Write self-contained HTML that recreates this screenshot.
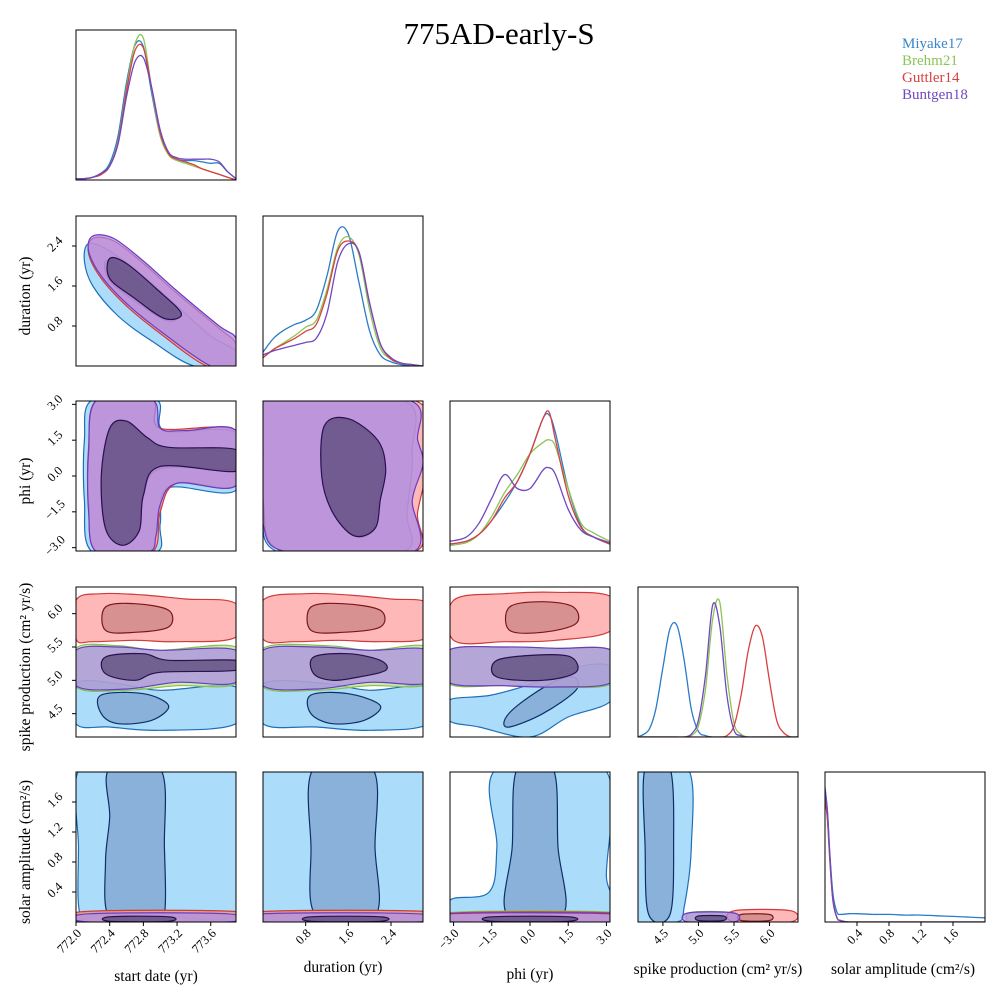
<!DOCTYPE html>
<html><head><meta charset="utf-8"><style>
html,body{margin:0;padding:0;background:#fff;}
svg text{font-family:"Liberation Serif","DejaVu Serif",serif;}
</style></head><body>
<svg id="fig" width="1000" height="1000" viewBox="0 0 1000 1000" xmlns="http://www.w3.org/2000/svg">
<text x="499" y="44" font-size="31" text-anchor="middle">775AD-early-S</text>
<g font-size="15">
<text x="902" y="48" fill="#3a84c9">Miyake17</text>
<text x="902" y="65" fill="#8cc455">Brehm21</text>
<text x="902" y="82" fill="#d94040">Guttler14</text>
<text x="902" y="99" fill="#7048c0">Buntgen18</text>
</g>
</svg>
<script>
// ---------- data ----------
const seriesNames=['Miyake17','Brehm21','Guttler14','Buntgen18'];
const varLabels=['start date (yr)','duration (yr)','phi (yr)','spike production (cm\u00b2 yr/s)','solar amplitude (cm\u00b2/s)'];
const varLo=[772.0,0.0,-3.14,4.15,0.0];
const varHi=[773.9,3.0,3.14,6.4,2.0];
const ticks0=[772.0,772.4,772.8,773.2,773.6];
const ticks1=[0.8,1.6,2.4];
const ticks2=[-3.0,-1.5,0.0,1.5,3.0];
const ticks3=[4.5,5.0,5.5,6.0];
const ticks4=[0.4,0.8,1.2,1.6];
// 1D marginals
const startGrid=[772.0,772.1,772.2,772.3,772.4,772.5,772.6,772.7,772.8,772.9,773.0,773.1,773.2,773.3,773.4,773.5,773.6,773.7,773.8,773.9];
const startMiyake=[0.01,0.01,0.02,0.05,0.12,0.32,0.7,0.97,0.96,0.62,0.32,0.19,0.15,0.14,0.14,0.13,0.12,0.12,0.06,0.01];
const startBrehm=[0.01,0.01,0.02,0.04,0.1,0.28,0.66,0.98,1.02,0.65,0.32,0.18,0.14,0.12,0.1,0.08,0.06,0.04,0.02,0.0];
const startGuttler=[0.01,0.01,0.02,0.04,0.1,0.27,0.64,0.93,0.95,0.66,0.34,0.19,0.15,0.13,0.11,0.08,0.06,0.04,0.02,0.0];
const startBuntgen=[0.01,0.01,0.02,0.05,0.1,0.26,0.6,0.85,0.88,0.66,0.36,0.2,0.16,0.15,0.15,0.15,0.15,0.13,0.06,0.01];
const durGrid=[0.0,0.2,0.4,0.6,0.8,1.0,1.2,1.4,1.6,1.8,2.0,2.2,2.4,2.6,2.8,3.0];
const durMiyake=[0.1,0.2,0.26,0.3,0.33,0.4,0.65,0.97,0.95,0.6,0.25,0.08,0.03,0.01,0.0,0.0];
const durBrehm=[0.06,0.12,0.17,0.22,0.28,0.33,0.55,0.85,0.93,0.8,0.4,0.13,0.05,0.02,0.01,0.0];
const durGuttler=[0.06,0.12,0.16,0.2,0.25,0.3,0.52,0.83,0.9,0.82,0.45,0.16,0.05,0.02,0.01,0.0];
const durBuntgen=[0.08,0.11,0.13,0.15,0.17,0.2,0.38,0.75,0.88,0.82,0.45,0.16,0.06,0.02,0.01,0.0];
const phiGrid=[-3.14,-2.5,-2.0,-1.5,-1.0,-0.5,0.0,0.5,0.75,1.0,1.5,2.0,2.5,3.14];
const phiMiyake=[0.05,0.07,0.12,0.22,0.35,0.5,0.7,0.95,0.98,0.85,0.45,0.18,0.1,0.05];
const phiBrehm=[0.04,0.06,0.12,0.25,0.42,0.55,0.7,0.78,0.8,0.75,0.45,0.2,0.13,0.07];
const phiGuttler=[0.05,0.07,0.12,0.22,0.38,0.5,0.7,0.95,1.0,0.8,0.4,0.17,0.1,0.05];
const phiBuntgen=[0.07,0.1,0.2,0.38,0.55,0.45,0.45,0.58,0.6,0.55,0.3,0.15,0.1,0.06];
const spikeGrid=[4.15,4.3,4.4,4.5,4.6,4.7,4.8,4.9,5.0,5.1,5.2,5.3,5.4,5.5,5.6,5.7,5.8,5.9,6.0,6.1,6.2,6.3,6.4];
const spikeMiyake=[0.0,0.05,0.2,0.5,0.78,0.8,0.55,0.2,0.04,0.01,0,0,0,0,0,0,0,0,0,0,0,0,0];
const spikeBrehm=[0,0,0,0,0,0,0,0.01,0.08,0.35,0.85,0.97,0.45,0.1,0.02,0,0,0,0,0,0,0,0];
const spikeGuttler=[0,0,0,0,0,0,0,0,0,0,0,0,0.01,0.08,0.3,0.62,0.8,0.72,0.4,0.12,0.03,0.0,0];
const spikeBuntgen=[0,0,0,0,0,0,0,0.02,0.12,0.45,0.95,0.8,0.3,0.05,0.01,0,0,0,0,0,0,0,0];
const solarGrid=[0.0,0.03,0.06,0.1,0.15,0.2,0.3,0.4,0.6,0.8,1.0,1.2,1.4,1.6,1.8,2.0];
const solarMiyake=[0.97,0.8,0.5,0.2,0.07,0.055,0.06,0.06,0.055,0.055,0.05,0.05,0.045,0.04,0.035,0.03];
const solarBrehm=[0.9,0.75,0.45,0.15,0.03,0.01,0,0,0,0,0,0,0,0,0,0];
const solarGuttler=[0.88,0.74,0.45,0.15,0.03,0.01,0,0,0,0,0,0,0,0,0,0];
const solarBuntgen=[0.95,0.8,0.48,0.16,0.03,0.01,0,0,0,0,0,0,0,0,0,0];
// 2D credible-region contours (data units): [series, level(0=outer,1=inner), points]
const c10=[
 [0,0,[[772.15,2.45],[772.4,2.3],[772.8,1.8],[773.2,1.2],[773.6,0.6],[773.9,0.3],[773.9,0.0],[773.4,0.0],[772.9,0.5],[772.5,1.0],[772.2,1.6],[772.1,2.1]]],
 [0,1,[[772.35,2.1],[772.55,1.95],[772.9,1.5],[773.2,1.0],[773.05,0.92],[772.7,1.3],[772.4,1.7]]],
 [2,0,[[772.2,2.55],[772.45,2.5],[772.8,2.05],[773.2,1.45],[773.7,0.75],[773.9,0.45],[773.9,0.0],[773.55,0.0],[773.0,0.65],[772.6,1.2],[772.3,1.75],[772.15,2.25]]],
 [3,0,[[772.2,2.6],[772.45,2.55],[772.8,2.1],[773.2,1.5],[773.7,0.8],[773.9,0.55],[773.9,0.0],[773.6,0.0],[773.0,0.7],[772.6,1.25],[772.3,1.8],[772.15,2.3]]],
 [3,1,[[772.4,2.15],[772.6,2.05],[772.95,1.55],[773.25,1.05],[773.05,0.95],[772.7,1.35],[772.4,1.75]]]
];
const c20=[
 [0,0,[[772.2,3.2],[772.95,3.2],[773.05,1.9],[773.9,1.8],[773.9,-0.6],[773.1,-0.5],[773.0,-2.0],[772.95,-3.2],[772.2,-3.2],[772.1,-1.0],[772.1,1.5]]],
 [0,1,[[772.4,1.9],[772.6,2.2],[772.85,1.5],[773.1,1.1],[773.9,1.0],[773.9,0.3],[773.0,0.3],[772.8,-0.9],[772.75,-2.3],[772.55,-2.8],[772.35,-2.2],[772.3,0.0]]],
 [2,0,[[772.25,3.2],[772.9,3.2],[773.0,2.0],[773.9,1.9],[773.9,-0.4],[773.2,-0.3],[773.0,-1.5],[772.9,-3.2],[772.25,-3.2],[772.15,-1.2],[772.15,1.2]]],
 [3,0,[[772.25,3.2],[772.9,3.2],[773.0,2.0],[773.3,1.9],[773.9,1.9],[773.9,-0.4],[773.2,-0.3],[773.0,-1.2],[772.95,-2.5],[772.85,-3.2],[772.25,-3.2],[772.15,-1.5],[772.15,1.0]]],
 [3,1,[[772.4,2.0],[772.6,2.3],[772.85,1.6],[773.1,1.2],[773.9,1.1],[773.9,0.2],[773.0,0.4],[772.8,-0.8],[772.75,-2.3],[772.55,-2.9],[772.35,-2.2],[772.3,0.0]]]
];
const c21=[
 [0,0,[[0.0,3.2],[2.6,3.2],[2.8,1.0],[2.7,-1.5],[2.6,-3.2],[0.3,-3.2],[0.0,-1.0]]],
 [0,1,[[1.15,2.0],[1.6,2.3],[2.1,1.5],[2.25,0.3],[2.15,-1.0],[2.05,-2.3],[1.7,-2.5],[1.3,-1.5],[1.1,0.0]]],
 [2,0,[[0.0,3.2],[2.8,3.2],[3.1,1.0],[2.9,-1.5],[2.8,-3.2],[0.4,-3.2],[0.0,-1.0]]],
 [3,0,[[0.0,3.2],[2.7,3.2],[2.9,1.5],[3.0,0.5],[2.8,-1.0],[2.8,-3.2],[0.5,-3.2],[0.0,-2.0],[0.0,1.0]]],
 [3,1,[[1.15,2.1],[1.6,2.4],[2.15,1.5],[2.3,0.3],[2.2,-1.0],[2.1,-2.2],[1.7,-2.5],[1.3,-1.5],[1.1,0.0]]]
];
const c30=[
 [0,0,[[772.0,4.95],[772.5,4.95],[773.0,4.85],[773.9,4.9],[773.9,4.35],[773.0,4.25],[772.4,4.3],[772.0,4.35]]],
 [0,1,[[772.3,4.78],[772.8,4.8],[773.1,4.62],[772.9,4.4],[772.5,4.35],[772.3,4.5]]],
 [1,0,[[772.0,5.48],[772.5,5.52],[773.0,5.45],[773.9,5.5],[773.9,4.95],[773.2,4.92],[772.6,4.85],[772.0,4.9]]],
 [2,0,[[772.0,6.2],[772.3,6.3],[772.8,6.28],[773.3,6.22],[773.9,6.15],[773.9,5.65],[773.2,5.58],[772.7,5.6],[772.2,5.58],[772.0,5.62]]],
 [2,1,[[772.35,6.1],[772.7,6.15],[773.1,6.05],[773.1,5.8],[772.7,5.72],[772.35,5.75]]],
 [3,0,[[772.0,5.45],[772.5,5.5],[773.0,5.45],[773.9,5.45],[773.9,4.97],[773.2,4.97],[772.6,4.87],[772.0,4.92]]],
 [3,1,[[772.35,5.35],[772.8,5.4],[773.1,5.3],[773.9,5.3],[773.9,5.15],[773.0,5.12],[772.7,5.0],[772.35,5.1]]]
];
const c31=[
 [0,0,[[0.0,4.95],[1.2,4.95],[2.0,4.85],[3.1,4.9],[3.1,4.35],[2.0,4.25],[1.0,4.3],[0.0,4.35]]],
 [0,1,[[0.9,4.78],[1.6,4.8],[2.2,4.62],[1.9,4.4],[1.3,4.35],[0.9,4.5]]],
 [1,0,[[0.0,5.48],[1.2,5.52],[2.0,5.45],[3.1,5.5],[3.1,4.95],[2.0,4.92],[1.0,4.85],[0.0,4.9]]],
 [2,0,[[0.0,6.2],[0.8,6.3],[1.6,6.28],[2.4,6.22],[3.1,6.15],[3.1,5.65],[2.2,5.58],[1.4,5.6],[0.6,5.58],[0.0,5.62]]],
 [2,1,[[0.9,6.1],[1.5,6.15],[2.2,6.05],[2.2,5.8],[1.5,5.72],[0.9,5.75]]],
 [3,0,[[0.0,5.45],[1.0,5.5],[2.0,5.45],[3.1,5.45],[3.1,4.97],[2.0,4.97],[1.0,4.87],[0.0,4.92]]],
 [3,1,[[0.95,5.35],[1.6,5.4],[2.2,5.3],[2.3,5.15],[1.8,5.05],[1.3,5.0],[0.95,5.1]]]
];
const c32=[
 [0,0,[[-3.2,4.7],[-1.5,4.78],[0.5,5.0],[1.8,5.2],[3.2,5.2],[3.2,4.7],[1.5,4.45],[0.0,4.15],[-2.0,4.3],[-3.2,4.4]]],
 [0,1,[[-0.8,4.3],[0.5,4.5],[1.8,4.85],[1.7,5.05],[0.8,4.95],[-0.5,4.62],[-1.0,4.4]]],
 [1,0,[[-3.2,5.45],[-1.0,5.5],[1.0,5.48],[3.2,5.45],[3.2,4.95],[1.0,4.9],[-1.0,4.92],[-3.2,4.95]]],
 [2,0,[[-3.0,6.2],[-1.0,6.3],[1.0,6.32],[3.2,6.25],[3.2,5.75],[1.0,5.6],[-1.0,5.58],[-3.0,5.6]]],
 [2,1,[[-0.8,6.1],[0.5,6.18],[1.7,6.1],[1.8,5.85],[0.5,5.72],[-0.8,5.75]]],
 [3,0,[[-3.2,5.45],[-1.0,5.5],[1.0,5.48],[3.2,5.45],[3.2,4.97],[1.0,4.9],[-1.0,4.92],[-3.2,4.97]]],
 [3,1,[[-1.3,5.3],[0.3,5.38],[1.6,5.35],[1.8,5.12],[0.5,5.0],[-1.3,5.05]]]
];
const c40=[
 [0,0,[[772.05,2.05],[772.8,2.05],[773.9,2.05],[773.92,1.0],[773.9,0.1],[773.0,0.08],[772.3,0.1],[772.05,0.1],[772.03,1.0]]],
 [0,1,[[772.4,2.05],[773.0,2.05],[773.05,1.0],[773.05,0.1],[772.9,0.03],[772.4,0.05],[772.35,0.8],[772.4,1.4]]],
 [1,0,[[772.15,0.13],[773.9,0.13],[773.9,0.0],[772.15,0.0]]],
 [2,0,[[772.1,0.14],[773.9,0.14],[773.9,0.0],[772.1,0.0]]],
 [3,0,[[772.15,0.11],[773.8,0.11],[773.8,0.0],[772.15,0.0]]],
 [3,1,[[772.4,0.07],[773.1,0.07],[773.1,0.01],[772.4,0.01]]]
];
const c41=[
 [0,0,[[0.0,2.05],[3.1,2.05],[3.1,0.05],[0.0,0.05]]],
 [0,1,[[0.95,2.05],[2.05,2.05],[2.1,1.0],[2.1,0.08],[1.0,0.08],[0.9,1.0]]],
 [1,0,[[0.0,0.13],[3.0,0.13],[3.0,0.0],[0.0,0.0]]],
 [2,0,[[0.0,0.14],[3.1,0.14],[3.1,0.0],[0.0,0.0]]],
 [3,0,[[0.0,0.11],[2.9,0.11],[2.9,0.0],[0.0,0.0]]],
 [3,1,[[0.9,0.07],[2.2,0.07],[2.2,0.01],[0.9,0.01]]]
];
const c42=[
 [0,0,[[-1.3,2.05],[2.9,2.05],[3.0,0.6],[3.2,0.03],[-3.2,0.03],[-3.1,0.3],[-1.6,0.4],[-1.3,1.0]]],
 [0,1,[[-0.5,2.05],[0.9,2.05],[1.1,1.0],[1.3,0.1],[-0.9,0.1],[-0.7,1.0]]],
 [1,0,[[-3.0,0.13],[3.2,0.13],[3.2,0.0],[-3.0,0.0]]],
 [2,0,[[-3.0,0.12],[3.2,0.12],[3.2,0.0],[-3.0,0.0]]],
 [3,0,[[-3.1,0.11],[3.1,0.11],[3.1,0.0],[-3.1,0.0]]],
 [3,1,[[-1.5,0.07],[1.5,0.07],[1.5,0.01],[-1.5,0.01]]]
];
const c43=[
 [0,0,[[4.15,2.05],[4.85,2.05],[4.9,1.0],[4.8,0.2],[4.7,0.0],[4.15,0.0]]],
 [0,1,[[4.25,2.05],[4.6,2.05],[4.65,1.0],[4.6,0.1],[4.3,0.1],[4.25,1.0]]],
 [1,0,[[4.9,0.13],[5.5,0.12],[5.5,0.0],[4.9,0.0]]],
 [2,0,[[5.5,0.15],[6.3,0.15],[6.3,0.0],[5.5,0.0]]],
 [2,1,[[5.6,0.1],[6.0,0.1],[6.0,0.02],[5.6,0.02]]],
 [3,0,[[4.85,0.12],[5.5,0.12],[5.5,0.0],[4.85,0.0]]],
 [3,1,[[5.0,0.08],[5.35,0.08],[5.35,0.02],[5.0,0.02]]]
];
// ---------- layout ----------
const colX=[76,263,450,638,825], rowY=[30,216,401,587,772], W=160, H=150;
const lineCol=['#2a7cc7','#8cc455','#d94040','#7048c0'];
const outerFill=['#87cefa','#b5e38a','#ff9a9a','#a98ae8'];
const innerFill=['#7fa2cf','#8fb070','#c98484','#5a4a78'];
const edgeCol=['#1f6fb8','#86c04c','#d03a3a','#6a3cc0'];
const innerEdge=['#0e2f66','#4a6a20','#7a1818','#2a1050'];
const allTicks=[ticks0,ticks1,ticks2,ticks3,ticks4];
const marg=[[startGrid,[startMiyake,startBrehm,startGuttler,startBuntgen]],[durGrid,[durMiyake,durBrehm,durGuttler,durBuntgen]],[phiGrid,[phiMiyake,phiBrehm,phiGuttler,phiBuntgen]],[spikeGrid,[spikeMiyake,spikeBrehm,spikeGuttler,spikeBuntgen]],[solarGrid,[solarMiyake,solarBrehm,solarGuttler,solarBuntgen]]];
const cont={'1-0':c10,'2-0':c20,'2-1':c21,'3-0':c30,'3-1':c31,'3-2':c32,'4-0':c40,'4-1':c41,'4-2':c42,'4-3':c43};
const NS='http://www.w3.org/2000/svg';
const svg=document.getElementById('fig');
function mk(tag,attrs,parent){const e=document.createElementNS(NS,tag);for(const k in attrs)e.setAttribute(k,attrs[k]);(parent||svg).appendChild(e);return e;}
function xScale(v,c){return colX[c]+(v-varLo[c])/(varHi[c]-varLo[c])*W;}
function yScale(v,r){return rowY[r]+H-(v-varLo[r])/(varHi[r]-varLo[r])*H;}
function closedPath(p){const n=p.length;let d='M'+p[0][0].toFixed(1)+','+p[0][1].toFixed(1);
 for(let i=0;i<n;i++){const p0=p[(i-1+n)%n],p1=p[i],p2=p[(i+1)%n],p3=p[(i+2)%n];
  const c1=[p1[0]+(p2[0]-p0[0])/6,p1[1]+(p2[1]-p0[1])/6],c2=[p2[0]-(p3[0]-p1[0])/6,p2[1]-(p3[1]-p1[1])/6];
  d+='C'+c1[0].toFixed(1)+','+c1[1].toFixed(1)+' '+c2[0].toFixed(1)+','+c2[1].toFixed(1)+' '+p2[0].toFixed(1)+','+p2[1].toFixed(1);}
 return d+'Z';}
function openPath(p){let d='M'+p[0][0].toFixed(1)+','+p[0][1].toFixed(1);const n=p.length;
 for(let i=0;i<n-1;i++){const p0=p[Math.max(i-1,0)],p1=p[i],p2=p[i+1],p3=p[Math.min(i+2,n-1)];
  const c1=[p1[0]+(p2[0]-p0[0])/6,p1[1]+(p2[1]-p0[1])/6],c2=[p2[0]-(p3[0]-p1[0])/6,p2[1]-(p3[1]-p1[1])/6];
  d+='C'+c1[0].toFixed(1)+','+c1[1].toFixed(1)+' '+c2[0].toFixed(1)+','+c2[1].toFixed(1)+' '+p2[0].toFixed(1)+','+p2[1].toFixed(1);}
 return d;}
function fmt(v){return (v<0?'\u2212':'')+Math.abs(v).toFixed(1);}
const defs=mk('defs',{});
for(let r=0;r<5;r++){for(let c=0;c<=r;c++){
 const cp=mk('clipPath',{id:'cp'+r+c},defs);mk('rect',{x:colX[c],y:rowY[r],width:W,height:H},cp);
 const g=mk('g',{'clip-path':'url(#cp'+r+c+')'});
 
 
 if(r===c){
  const grid=marg[c][0];
  for(let s=0;s<4;s++){const vals=marg[c][1][s];
   const pts=grid.map((x,i)=>[xScale(x,c),rowY[r]+H-vals[i]/1.08*H]);
   const p=mk('path',{d:openPath(pts),fill:'none',stroke:lineCol[s],'stroke-width':1.3},g);
   
   }
 } else {
  const list=cont[r+'-'+c]||[];
  list.forEach(item=>{const s=item[0],lvl=item[1];
   const pts=item[2].map(q=>[xScale(q[0],c),yScale(q[1],r)]);
   const p=mk('path',{d:closedPath(pts),fill:lvl?innerFill[s]:outerFill[s],'fill-opacity':lvl?0.75:0.7,stroke:lvl?innerEdge[s]:edgeCol[s],'stroke-width':1.2},g);
   
   });
 }
 const fr=mk('rect',{x:colX[c],y:rowY[r],width:W,height:H,fill:'none',stroke:'#000','stroke-width':1});
 
 
 if(r===4){allTicks[c].forEach(t=>{const x=xScale(t,c),y=rowY[r]+H;
   mk('line',{x1:x,y1:y,x2:x,y2:y+4,stroke:'#000'});
   const ax=x+6,ay=y+12;
   const tx=mk('text',{x:ax,y:ay,'font-size':12.5,'text-anchor':'end',transform:'rotate(-45 '+ax+' '+ay+')'});
   tx.textContent=fmt(t);
   
   });
 }
 if(c===0&&r>0){allTicks[r].forEach(t=>{const y=yScale(t,r),x=colX[0];
   mk('line',{x1:x-4,y1:y,x2:x,y2:y,stroke:'#000'});
   const lx=x-21,ly=y-2;
   const tx=mk('text',{x:lx,y:ly+4,'font-size':12.5,'text-anchor':'middle',transform:'rotate(-45 '+lx+' '+ly+')'});
   tx.textContent=fmt(t);
   
   });
 }
}}
const xt=[[156,981],[343,972],[530,979],[718,974],[903,974]];
for(let c=0;c<5;c++){const t=mk('text',{x:xt[c][0],y:xt[c][1],'font-size':15.5,'text-anchor':'middle'});t.textContent=varLabels[c];
 
 }
for(let r=1;r<5;r++){const cy=rowY[r]+H/2,cx=30;const t=mk('text',{x:cx,y:cy+5,'font-size':15.5,'text-anchor':'middle',transform:'rotate(-90 '+cx+' '+(cy+5)+')'});t.textContent=varLabels[r];
 
 }
</script>
</body></html>
